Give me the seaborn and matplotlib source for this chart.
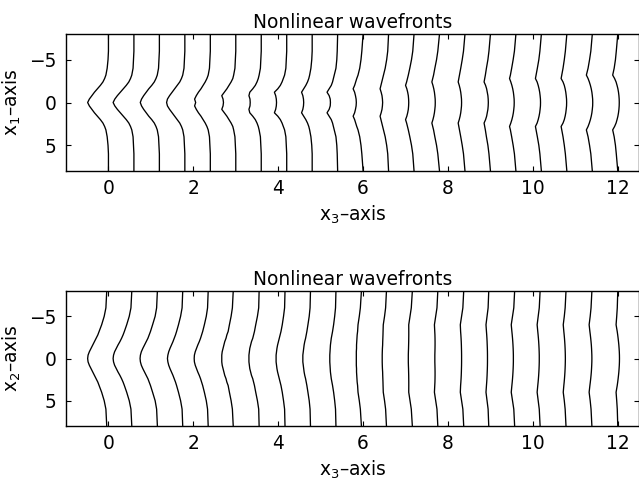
import numpy as np
import pandas as pd
import matplotlib
matplotlib.use("Agg")
import matplotlib.pyplot as plt
import seaborn as sns

# ---------------- data ----------------
# half-profile sample positions along x1 (curves are symmetric about x1 = 0)
GRID = [0.0, 0.4, 0.8, 1.2, 1.6, 2.0, 2.4, 2.8, 3.2, 4.0, 5.0, 6.0, 8.0]

# base position (x3) of each wavefront
BASES = [0.0, 0.6, 1.2, 1.8, 2.4, 3.0, 3.6, 4.2, 4.8, 5.4, 6.0,
         6.6, 7.2, 7.8, 8.4, 9.0, 9.6, 10.2, 10.8, 11.4, 12.0]

# x3 offsets from the base, at the GRID positions (upper panel, x1 section)
TOP_OFFSETS = [
    [-0.49, -0.45, -0.39, -0.33, -0.26, -0.19, -0.13, -0.09, -0.06, -0.03, -0.01, 0.00, 0.00],
    [-0.49, -0.45, -0.39, -0.32, -0.25, -0.18, -0.12, -0.08, -0.05, -0.02, -0.01, 0.00, 0.00],
    [-0.45, -0.42, -0.37, -0.31, -0.25, -0.18, -0.12, -0.08, -0.05, -0.02, -0.01, 0.00, 0.00],
    [-0.43, -0.41, -0.36, -0.30, -0.24, -0.18, -0.12, -0.08, -0.05, -0.02, -0.01, 0.00, 0.00],
    [-0.345, -0.37, -0.33, -0.28, -0.22, -0.17, -0.12, -0.08, -0.05, -0.02, -0.01, 0.00, 0.00],
    [-0.29, -0.30, -0.33, -0.27, -0.21, -0.16, -0.11, -0.07, -0.05, -0.02, -0.01, 0.00, 0.00],
    [-0.26, -0.265, -0.29, -0.27, -0.20, -0.14, -0.10, -0.07, -0.05, -0.02, -0.01, 0.00, 0.00],
    [-0.24, -0.245, -0.26, -0.29, -0.21, -0.15, -0.11, -0.08, -0.05, -0.02, -0.01, 0.00, 0.00],
    [-0.20, -0.205, -0.22, -0.25, -0.20, -0.15, -0.11, -0.08, -0.06, -0.03, -0.01, 0.00, 0.00],
    [-0.17, -0.175, -0.20, -0.25, -0.20, -0.15, -0.12, -0.10, -0.08, -0.04, -0.02, -0.01, 0.00],
    [-0.16, -0.165, -0.18, -0.20, -0.235, -0.20, -0.175, -0.15, -0.12, -0.08, -0.05, -0.03, 0.00],
    [-0.14, -0.145, -0.155, -0.175, -0.20, -0.18, -0.16, -0.14, -0.12, -0.08, -0.045, -0.02, 0.00],
    [-0.125, -0.128, -0.135, -0.15, -0.17, -0.20, -0.175, -0.155, -0.135, -0.10, -0.06, -0.03, 0.00],
    [-0.10, -0.102, -0.11, -0.12, -0.135, -0.155, -0.18, -0.16, -0.14, -0.11, -0.07, -0.04, 0.00],
    [-0.08, -0.082, -0.09, -0.10, -0.115, -0.135, -0.16, -0.145, -0.13, -0.10, -0.065, -0.035, 0.00],
    [-0.05, -0.053, -0.06, -0.075, -0.09, -0.115, -0.15, -0.135, -0.12, -0.095, -0.06, -0.035, 0.00],
    [-0.04, -0.042, -0.05, -0.06, -0.075, -0.095, -0.12, -0.15, -0.13, -0.10, -0.065, -0.035, 0.00],
    [-0.02, -0.022, -0.03, -0.04, -0.055, -0.075, -0.10, -0.14, -0.125, -0.095, -0.06, -0.035, 0.00],
    [-0.005, -0.007, -0.015, -0.025, -0.04, -0.06, -0.09, -0.135, -0.12, -0.09, -0.06, -0.035, 0.00],
    [0.01, 0.008, 0.0, -0.01, -0.025, -0.045, -0.07, -0.10, -0.14, -0.10, -0.065, -0.035, 0.00],
    [0.035, 0.033, 0.027, 0.017, 0.003, -0.017, -0.04, -0.075, -0.12, -0.085, -0.055, -0.035, 0.00],
]

# x3 offsets from the base, at the GRID positions (lower panel, x2 section)
BOTTOM_OFFSETS = [
    [-0.49, -0.48, -0.45, -0.41, -0.37, -0.33, -0.29, -0.25, -0.22, -0.16, -0.10, -0.06, -0.04],
    [-0.49, -0.48, -0.455, -0.415, -0.375, -0.33, -0.29, -0.255, -0.225, -0.17, -0.11, -0.07, -0.05],
    [-0.455, -0.447, -0.425, -0.39, -0.35, -0.31, -0.27, -0.24, -0.21, -0.16, -0.10, -0.065, -0.047],
    [-0.41, -0.40, -0.38, -0.35, -0.315, -0.28, -0.25, -0.22, -0.195, -0.15, -0.10, -0.065, -0.05],
    [-0.38, -0.375, -0.355, -0.325, -0.295, -0.26, -0.23, -0.205, -0.18, -0.14, -0.095, -0.065, -0.05],
    [-0.33, -0.33, -0.32, -0.30, -0.28, -0.26, -0.23, -0.21, -0.18, -0.15, -0.11, -0.08, -0.06],
    [-0.29, -0.29, -0.28, -0.27, -0.25, -0.23, -0.20, -0.18, -0.16, -0.13, -0.09, -0.06, -0.05],
    [-0.25, -0.25, -0.24, -0.23, -0.215, -0.195, -0.175, -0.155, -0.135, -0.105, -0.075, -0.05, -0.04],
    [-0.22, -0.22, -0.21, -0.20, -0.19, -0.175, -0.155, -0.14, -0.125, -0.10, -0.07, -0.05, -0.04],
    [-0.185, -0.185, -0.18, -0.175, -0.17, -0.16, -0.15, -0.135, -0.12, -0.095, -0.07, -0.05, -0.04],
    [-0.16, -0.16, -0.16, -0.155, -0.155, -0.15, -0.145, -0.14, -0.13, -0.12, -0.09, -0.065, -0.04],
    [-0.15, -0.15, -0.148, -0.145, -0.14, -0.138, -0.135, -0.132, -0.13, -0.125, -0.095, -0.07, -0.05],
    [-0.135, -0.135, -0.133, -0.13, -0.128, -0.126, -0.125, -0.124, -0.124, -0.125, -0.095, -0.065, -0.04],
    [-0.11, -0.11, -0.108, -0.106, -0.105, -0.105, -0.106, -0.108, -0.112, -0.12, -0.09, -0.06, -0.04],
    [-0.08, -0.08, -0.081, -0.083, -0.085, -0.088, -0.092, -0.097, -0.103, -0.11, -0.08, -0.05, -0.03],
    [-0.07, -0.07, -0.071, -0.073, -0.076, -0.079, -0.083, -0.088, -0.094, -0.105, -0.08, -0.055, -0.04],
    [-0.06, -0.06, -0.062, -0.065, -0.069, -0.074, -0.08, -0.087, -0.095, -0.11, -0.08, -0.05, -0.03],
    [-0.05, -0.05, -0.052, -0.055, -0.059, -0.064, -0.07, -0.077, -0.085, -0.10, -0.075, -0.05, -0.03],
    [-0.035, -0.036, -0.038, -0.041, -0.045, -0.05, -0.056, -0.063, -0.071, -0.085, -0.06, -0.04, -0.02],
    [-0.01, -0.011, -0.014, -0.018, -0.023, -0.03, -0.038, -0.047, -0.057, -0.075, -0.05, -0.03, -0.01],
    [0.04, 0.039, 0.036, 0.031, 0.025, 0.017, 0.008, -0.002, -0.013, -0.04, -0.025, -0.012, 0.0],
]

TITLE = "Nonlinear wavefronts"
XLABEL = "x$_3$\u2013axis"
YLABELS = ["x$_1$\u2013axis", "x$_2$\u2013axis"]
XTICKS = [0, 2, 4, 6, 8, 10, 12]
YTICKS = [-5, 0, 5]


def build_frame(offsets):
    g = np.asarray(GRID)
    frames = []
    for k, (base, half) in enumerate(zip(BASES, offsets)):
        h = np.asarray(half)
        x1 = np.concatenate([-g[::-1], g[1:]])
        dx = np.concatenate([h[::-1], h[1:]])
        frames.append(pd.DataFrame({"x3": base + dx, "x1": x1, "curve": k}))
    return pd.concat(frames, ignore_index=True)


sns.set_theme(style="ticks")
FS = 13.4
plt.rcParams.update({
    "font.family": ["DejaVu Sans"],
    "mathtext.fontset": "dejavusans",
    "font.size": FS,
    "axes.linewidth": 1.0,
    "axes.edgecolor": "black",
    "xtick.direction": "in",
    "ytick.direction": "in",
    "xtick.top": True,
    "ytick.right": True,
    "xtick.major.size": 3.6,
    "ytick.major.size": 3.6,
    "xtick.major.width": 0.8,
    "ytick.major.width": 0.8,
    "xtick.color": "black",
    "ytick.color": "black",
    "text.color": "black",
    "axes.labelcolor": "black",
})

W, H = 639, 482
fig = plt.figure(figsize=(W / 100, H / 100), dpi=100)
ax_top = fig.add_axes([66 / W, 1 - 171 / H, (W - 66) / W, 137 / H])
ax_bot = fig.add_axes([66 / W, 1 - 426 / H, (W - 66) / W, 135 / H])

for ax, offs, ylab in [(ax_top, TOP_OFFSETS, YLABELS[0]),
                       (ax_bot, BOTTOM_OFFSETS, YLABELS[1])]:
    df = build_frame(offs)
    sns.lineplot(data=df, x="x3", y="x1", units="curve", estimator=None,
                 sort=False, color="black", linewidth=0.95, ax=ax, legend=False)
    ax.set_xlim(-1, 12.5)
    ax.set_ylim(8, -8)
    ax.set_xticks(XTICKS)
    ax.set_yticks(YTICKS)
    ax.tick_params(axis="x", labelsize=FS, pad=6)
    ax.tick_params(axis="y", labelsize=FS, pad=7)
    ax.set_title(TITLE, fontsize=FS, pad=4)
    ax.set_xlabel(XLABEL, fontsize=FS, labelpad=4)
    ax.set_ylabel(ylab, fontsize=FS, labelpad=4)

fig.savefig("out.png", dpi=100)
